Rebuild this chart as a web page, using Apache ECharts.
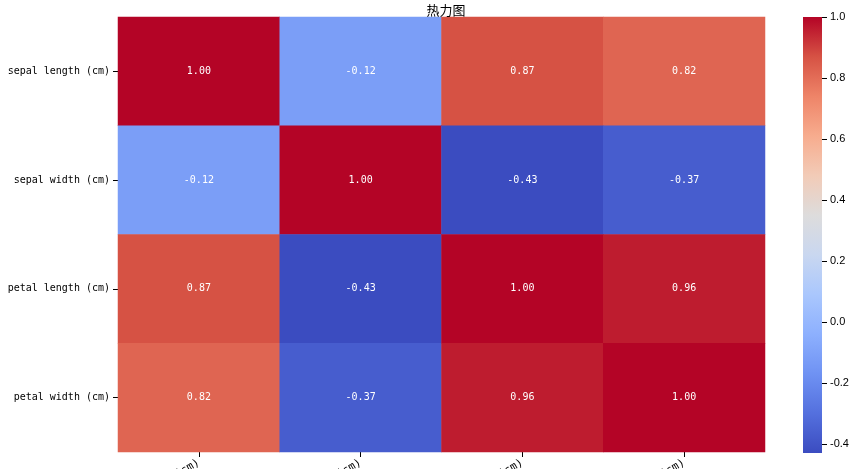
<!DOCTYPE html>
<html><head><meta charset="utf-8">
<script src="https://cdn.jsdelivr.net/npm/echarts@6/dist/echarts.min.js"></script>
<style>html,body{margin:0;background:#fff}#c{width:865px;height:469px}</style>
</head><body><div id="c"></div>
<script>
// 鸢尾花特征相关系数
const features = ['sepal length (cm)', 'sepal width (cm)', 'petal length (cm)', 'petal width (cm)'];
const corr = [
  [1.00, -0.12, 0.87, 0.82],
  [-0.12, 1.00, -0.43, -0.37],
  [0.87, -0.43, 1.00, 0.96],
  [0.82, -0.37, 0.96, 1.00]
];
const barTicks = [-0.4, -0.2, 0.0, 0.2, 0.4, 0.6, 0.8, 1.0];
const vMin = -0.43, vMax = 1.0;

const coolwarm = ['#3b4cc0', '#5470de', '#6f92f3', '#8db0fe', '#aac7fd', '#c9d7f0',
  '#dddcdc', '#f2cbb7', '#f7ac8e', '#ee8468', '#d65244', '#b40426'];

let cells = [];
corr.forEach((row, i) => row.forEach((v, j) => cells.push([j, i, v])));

const chart = echarts.init(document.getElementById('c'));
chart.setOption({
  animation: false,
  title: { text: '热力图', left: 441, textAlign: 'center', top: -1,
    textStyle: { fontSize: 13, fontWeight: 'normal', color: '#000', fontFamily: 'Noto Sans CJK SC' } },
  grid: [
    { left: 118, right: 100, top: 17, bottom: 17, outerBoundsMode: 'none', containLabel: false },
    { left: 803, right: 43, top: 17, bottom: 16, outerBoundsMode: 'none', containLabel: false }
  ],
  xAxis: [
    { type: 'category', data: features, gridIndex: 0,
      axisLine: { show: false }, axisTick: { show: true, alignWithLabel: true, lineStyle: { color: '#000' } },
      axisLabel: { rotate: 30, color: '#000', fontSize: 11, margin: 10, fontFamily: 'DejaVu Sans Mono' } },
    { type: 'category', data: [''], gridIndex: 1, show: false }
  ],
  yAxis: [
    { type: 'category', data: features, inverse: true, gridIndex: 0,
      axisLine: { show: false }, axisTick: { show: true, alignWithLabel: true, lineStyle: { color: '#000' } },
      axisLabel: { color: '#000', fontSize: 10, fontFamily: 'DejaVu Sans Mono' } },
    { type: 'value', gridIndex: 1, min: vMin, max: vMax, position: 'right',
      splitLine: { show: false },
      axisLine: { show: false },
      axisTick: { show: true, customValues: barTicks, lineStyle: { color: '#000' } },
      axisLabel: { color: '#000', fontSize: 11, customValues: barTicks,
        formatter: v => v.toFixed(1) } }
  ],
  visualMap: { show: false, min: vMin, max: vMax, seriesIndex: 0, inRange: { color: coolwarm } },
  graphic: [{
    type: 'rect', shape: { x: 803, y: 17, width: 19, height: 436 },
    style: { fill: new echarts.graphic.LinearGradient(0, 1, 0, 0,
      coolwarm.map((c, i) => ({ offset: i / (coolwarm.length - 1), color: c }))) }
  }],
  series: [{
    type: 'heatmap', data: cells, xAxisIndex: 0, yAxisIndex: 0,
    label: { show: true, color: '#fff', fontSize: 10, fontFamily: 'DejaVu Sans Mono',
      formatter: p => p.value[2].toFixed(2) }
  }]
});
</script></body></html>
